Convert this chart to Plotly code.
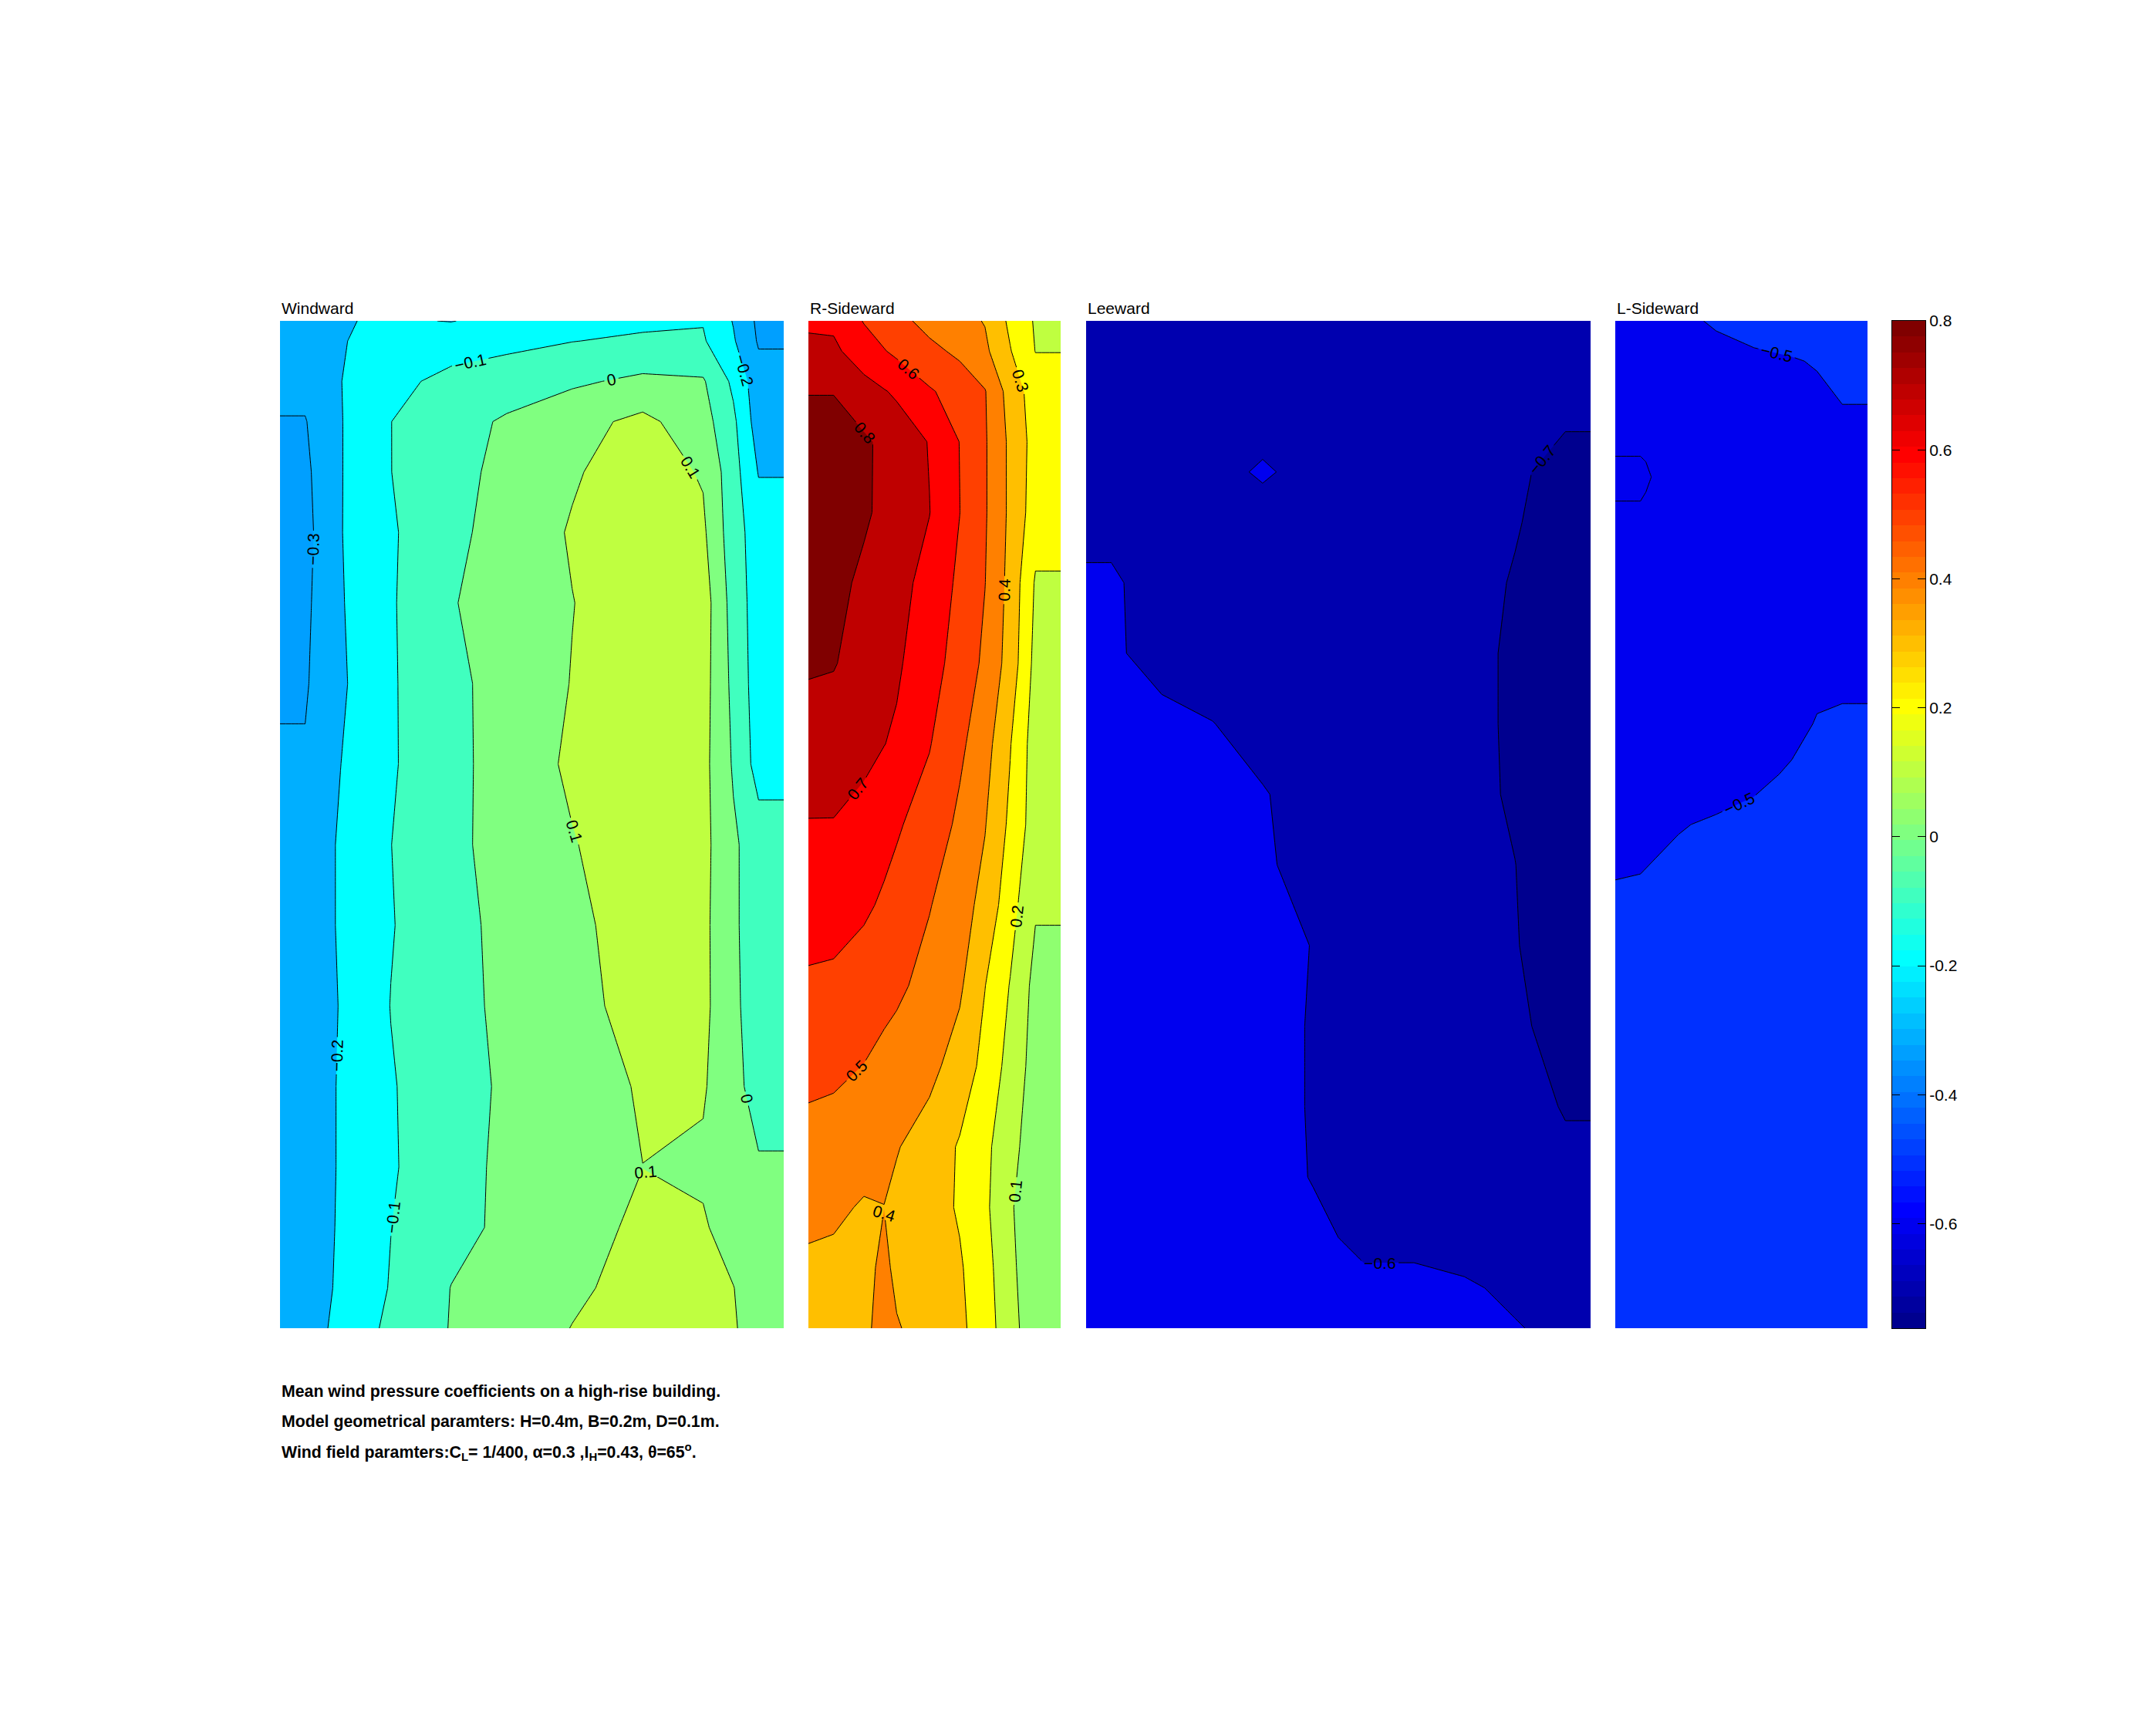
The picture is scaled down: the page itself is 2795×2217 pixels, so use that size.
import math
import plotly.graph_objects as go

# ---------------- data ----------------
# contour levels and colour-axis limits
level_start, level_end, level_step = -0.8, 0.8, 0.1
c_min, c_max = -0.762, 0.8
cbar_ticks = [-0.6, -0.4, -0.2, 0, 0.2, 0.4, 0.6, 0.8]
cbar_ticktext = ["-0.6", "-0.4", "-0.2", "0", "0.2", "0.4", "0.6", "0.8"]

face_titles = ["Windward", "R-Sideward", "Leeward", "L-Sideward"]

# Windward face (B = 0.2 m wide, H = 0.4 m); rows listed from top to bottom
ww_x = [0, 0.01, 0.024, 0.044, 0.068, 0.09, 0.116, 0.144, 0.168, 0.18, 0.19, 0.2]
ww_h = [0.4, 0.392, 0.376, 0.36, 0.34, 0.316, 0.288, 0.256, 0.224, 0.192, 0.16,
        0.128, 0.096, 0.064, 0.04, 0.016, 0.0]
ww_z = [
    [-0.25, -0.25, -0.205, -0.19, -0.203, -0.17, -0.14, -0.12, -0.105, -0.205, -0.32, -0.32],
    [-0.25, -0.25, -0.205, -0.17, -0.15, -0.13, -0.102, -0.085, -0.09, -0.19, -0.31, -0.31],
    [-0.27, -0.27, -0.202, -0.13, -0.07, -0.04, -0.015, 0.02, 0.01, -0.12, -0.26, -0.26],
    [-0.305, -0.305, -0.205, -0.101, -0.03, 0.01, 0.065, 0.125, 0.04, -0.08, -0.25, -0.25],
    [-0.32, -0.32, -0.205, -0.101, -0.035, 0.03, 0.09, 0.15, 0.091, -0.061, -0.205, -0.205],
    [-0.33, -0.33, -0.204, -0.111, -0.025, 0.041, 0.108, 0.15, 0.117, -0.057, -0.15, -0.15],
    [-0.32, -0.32, -0.208, -0.11, -0.006, 0.043, 0.098, 0.15, 0.15, -0.04, -0.15, -0.15],
    [-0.31, -0.31, -0.215, -0.11, -0.025, 0.04, 0.103, 0.15, 0.14, -0.025, -0.15, -0.15],
    [-0.29, -0.29, -0.201, -0.11, -0.03, 0.045, 0.115, 0.16, 0.13, -0.01, -0.14, -0.14],
    [-0.26, -0.26, -0.19, -0.101, -0.025, 0.04, 0.095, 0.15, 0.13, 0.015, -0.05, -0.05],
    [-0.26, -0.26, -0.19, -0.105, -0.035, 0.03, 0.08, 0.14, 0.125, 0.015, -0.05, -0.05],
    [-0.27, -0.27, -0.195, -0.098, -0.03, 0.02, 0.07, 0.135, 0.125, 0.02, -0.05, -0.05],
    [-0.27, -0.27, -0.19, -0.107, -0.04, 0.015, 0.05, 0.11, 0.11, 0.03, -0.04, -0.04],
    [-0.27, -0.27, -0.19, -0.11, -0.035, 0.02, 0.05, 0.0995, 0.085, 0.04, 0.01, 0.01],
    [-0.28, -0.28, -0.185, -0.101, -0.03, 0.02, 0.06, 0.12, 0.11, 0.06, 0.03, 0.03],
    [-0.29, -0.29, -0.175, -0.095, 0.002, 0.04, 0.085, 0.13, 0.125, 0.102, 0.05, 0.05],
    [-0.29, -0.29, -0.15, -0.085, 0.005, 0.05, 0.102, 0.14, 0.13, 0.108, 0.06, 0.06],
]

# R-Sideward face (D = 0.1 m wide)
rs_x = [0, 0.01, 0.022, 0.03, 0.035, 0.048, 0.06, 0.07, 0.08, 0.09, 0.1]
rs_h = [0.4, 0.388, 0.372, 0.352, 0.324, 0.296, 0.264, 0.232, 0.2, 0.168, 0.136,
        0.104, 0.072, 0.048, 0.024, 0.0]
rs_z = [
    [0.68, 0.68, 0.595, 0.555, 0.53, 0.468, 0.43, 0.395, 0.28, 0.19, 0.19],
    [0.73, 0.72, 0.645, 0.605, 0.58, 0.525, 0.48, 0.42, 0.305, 0.198, 0.198],
    [0.795, 0.795, 0.74, 0.706, 0.685, 0.61, 0.56, 0.505, 0.36, 0.25, 0.25],
    [0.86, 0.86, 0.815, 0.781, 0.76, 0.695, 0.598, 0.51, 0.38, 0.26, 0.26],
    [0.88, 0.87, 0.815, 0.778, 0.755, 0.702, 0.601, 0.51, 0.38, 0.25, 0.25],
    [0.86, 0.83, 0.78, 0.749, 0.73, 0.67, 0.58, 0.502, 0.37, 0.19, 0.19],
    [0.81, 0.805, 0.765, 0.734, 0.715, 0.635, 0.565, 0.48, 0.36, 0.17, 0.17],
    [0.76, 0.755, 0.73, 0.702, 0.685, 0.605, 0.52, 0.44, 0.305, 0.15, 0.15],
    [0.695, 0.695, 0.665, 0.631, 0.61, 0.56, 0.48, 0.405, 0.28, 0.15, 0.15],
    [0.66, 0.65, 0.615, 0.587, 0.57, 0.505, 0.44, 0.37, 0.24, 0.11, 0.11],
    [0.58, 0.575, 0.555, 0.533, 0.52, 0.465, 0.415, 0.302, 0.195, 0.07, 0.07],
    [0.525, 0.52, 0.498, 0.472, 0.455, 0.425, 0.36, 0.27, 0.165, 0.06, 0.06],
    [0.47, 0.46, 0.445, 0.42, 0.405, 0.36, 0.29, 0.225, 0.13, 0.05, 0.05],
    [0.43, 0.42, 0.39, 0.399, 0.38, 0.34, 0.29, 0.22, 0.11, 0.04, 0.04],
    [0.38, 0.375, 0.36, 0.43, 0.37, 0.335, 0.31, 0.24, 0.12, 0.04, 0.04],
    [0.36, 0.36, 0.37, 0.45, 0.41, 0.345, 0.32, 0.25, 0.135, 0.04, 0.04],
]

# Leeward face (0.2 m wide)
lw_x = [0, 0.01, 0.03, 0.05, 0.07, 0.09, 0.11, 0.13, 0.15, 0.17, 0.19, 0.2]
lw_h = [0.4, 0.36, 0.34, 0.32, 0.296, 0.268, 0.24, 0.212, 0.184, 0.152, 0.12,
        0.088, 0.06, 0.036, 0.016, 0.0]
lw_z = [
    [-0.62, -0.62, -0.64, -0.65, -0.65, -0.65, -0.65, -0.66, -0.67, -0.68, -0.69, -0.69],
    [-0.62, -0.62, -0.64, -0.645, -0.63, -0.645, -0.65, -0.66, -0.67, -0.685, -0.695, -0.695],
    [-0.63, -0.63, -0.64, -0.627, -0.59, -0.627, -0.65, -0.66, -0.67, -0.69, -0.72, -0.72],
    [-0.62, -0.62, -0.635, -0.645, -0.635, -0.65, -0.655, -0.66, -0.675, -0.695, -0.73, -0.73],
    [-0.59, -0.59, -0.63, -0.645, -0.65, -0.65, -0.655, -0.66, -0.675, -0.705, -0.74, -0.74],
    [-0.585, -0.585, -0.635, -0.645, -0.65, -0.655, -0.66, -0.665, -0.68, -0.71, -0.75, -0.75],
    [-0.56, -0.56, -0.575, -0.598, -0.63, -0.645, -0.655, -0.665, -0.68, -0.71, -0.75, -0.75],
    [-0.56, -0.56, -0.565, -0.575, -0.595, -0.63, -0.65, -0.66, -0.675, -0.71, -0.75, -0.75],
    [-0.56, -0.56, -0.56, -0.57, -0.59, -0.625, -0.645, -0.655, -0.67, -0.699, -0.75, -0.75],
    [-0.56, -0.56, -0.56, -0.565, -0.575, -0.602, -0.635, -0.65, -0.665, -0.695, -0.75, -0.75],
    [-0.56, -0.56, -0.56, -0.565, -0.575, -0.605, -0.635, -0.65, -0.66, -0.68, -0.74, -0.74],
    [-0.56, -0.56, -0.56, -0.565, -0.575, -0.605, -0.63, -0.645, -0.655, -0.67, -0.705, -0.705],
    [-0.56, -0.56, -0.56, -0.565, -0.575, -0.603, -0.625, -0.64, -0.65, -0.66, -0.68, -0.68],
    [-0.56, -0.56, -0.56, -0.565, -0.57, -0.585, -0.615, -0.62, -0.635, -0.65, -0.67, -0.67],
    [-0.56, -0.56, -0.56, -0.56, -0.565, -0.575, -0.585, -0.58, -0.59, -0.615, -0.64, -0.64],
    [-0.56, -0.56, -0.56, -0.56, -0.565, -0.57, -0.575, -0.58, -0.585, -0.595, -0.62, -0.62],
]

# L-Sideward face (0.1 m wide)
ls_x = [0, 0.01, 0.025, 0.04, 0.055, 0.07, 0.08, 0.09, 0.1]
ls_h = [0.4, 0.384, 0.364, 0.344, 0.338, 0.332, 0.3, 0.26, 0.24, 0.22, 0.2, 0.176, 0.1, 0.0]
ls_z = [
    [-0.53, -0.53, -0.52, -0.49, -0.47, -0.46, -0.45, -0.45, -0.45],
    [-0.55, -0.55, -0.545, -0.53, -0.515, -0.505, -0.495, -0.47, -0.47],
    [-0.56, -0.56, -0.555, -0.55, -0.54, -0.53, -0.52, -0.505, -0.505],
    [-0.605, -0.605, -0.57, -0.56, -0.55, -0.54, -0.53, -0.52, -0.52],
    [-0.61, -0.61, -0.575, -0.565, -0.555, -0.545, -0.535, -0.52, -0.52],
    [-0.605, -0.605, -0.57, -0.56, -0.555, -0.545, -0.53, -0.52, -0.52],
    [-0.56, -0.56, -0.56, -0.555, -0.55, -0.54, -0.53, -0.52, -0.52],
    [-0.56, -0.56, -0.555, -0.55, -0.545, -0.535, -0.52, -0.515, -0.515],
    [-0.56, -0.56, -0.555, -0.55, -0.54, -0.525, -0.495, -0.49, -0.49],
    [-0.56, -0.555, -0.55, -0.54, -0.52, -0.49, -0.48, -0.48, -0.48],
    [-0.555, -0.545, -0.505, -0.49, -0.475, -0.465, -0.46, -0.46, -0.46],
    [-0.495, -0.49, -0.475, -0.465, -0.46, -0.455, -0.45, -0.45, -0.45],
    [-0.47, -0.47, -0.465, -0.46, -0.455, -0.45, -0.45, -0.45, -0.45],
    [-0.455, -0.455, -0.455, -0.45, -0.45, -0.45, -0.45, -0.45, -0.45],
]

caption_lines = [
    "Mean wind pressure coefficients on a high-rise building.",
    "Model geometrical paramters: H=0.4m, B=0.2m, D=0.1m.",
    "Wind field paramters:C<sub>L</sub>= 1/400, \u03b1=0.3 ,I<sub>H</sub>=0.43, \u03b8=65<sup>o</sup>.",
]


# ---------------- colour map (MATLAB jet(64)) ----------------
def jet(m=64):
    n = -(-m // 4)
    u = [i / n for i in range(1, n + 1)] + [1.0] * (n - 1) + [i / n for i in range(n, 0, -1)]
    g0 = -(-n // 2) - (1 if m % 4 == 1 else 0)
    J = [[0.0, 0.0, 0.0] for _ in range(m)]
    for k, val in enumerate(u, start=1):
        gi = g0 + k
        ri, bi = gi + n, gi - n
        if 1 <= ri <= m:
            J[ri - 1][0] = val
        if 1 <= gi <= m:
            J[gi - 1][1] = val
        if 1 <= bi <= m:
            J[bi - 1][2] = val
    return J


JET = jet(64)


def rgb(c):
    return "rgb(%d,%d,%d)" % tuple(int(round(v * 255)) for v in c)


def jet_at(v):
    idx = math.floor((v - c_min) / (c_max - c_min) * 64 + 1e-9) + 1
    idx = min(max(idx, 1), 64)
    return rgb(JET[idx - 1])


n_levels = int(round((level_end - level_start) / level_step)) + 1


def face_scale(z):
    # MATLAB-style filled contours: each band takes the colour of its lower level,
    # the lowest populated band takes the colour of the face minimum
    zmin = min(min(r) for r in z)
    k0 = math.floor((zmin - level_start) / level_step + 1e-9)
    cols = []
    for k in range(n_levels):
        L = level_start + k * level_step
        cols.append(jet_at(zmin if k == k0 else L))
    # plotly colours the band above level L with colour at L + step/2 -> position (k+1)/n_levels
    return [[0.0, cols[0]]] + [[(k + 1) / n_levels, cols[k]] for k in range(n_levels)]


fig = go.Figure()

faces = [
    (ww_x, ww_h, ww_z, "x", "y"),
    (rs_x, rs_h, rs_z, "x2", "y2"),
    (lw_x, lw_h, lw_z, "x3", "y3"),
    (ls_x, ls_h, ls_z, "x4", "y4"),
]
for fx, fh, fz, xa, ya in faces:
    fig.add_trace(go.Contour(
        x=fx, y=fh[::-1], z=fz[::-1],
        xaxis=xa, yaxis=ya,
        autocontour=False,
        contours=dict(start=level_start, end=level_end, size=level_step,
                      coloring="fill", showlines=True, showlabels=True,
                      labelfont=dict(size=21, color="black", family="Liberation Sans, Arial")),
        line=dict(color="black", width=1, smoothing=0),
        colorscale=face_scale(fz),
        showscale=False,
        hoverinfo="skip",
    ))

# colour bar drawn as a 64-step heatmap
cb_step = (c_max - c_min) / 64
fig.add_trace(go.Heatmap(
    z=[[i] for i in range(64)],
    x0=0.5, dx=1,
    y0=c_min + cb_step / 2, dy=cb_step,
    zmin=0, zmax=63,
    colorscale=[[i / 63, rgb(JET[i])] for i in range(64)],
    showscale=False, xaxis="x5", yaxis="y5", hoverinfo="skip",
))

ydom = [0.22327, 0.81236]
xdoms = [[0.12987, 0.36351], [0.37496, 0.49195], [0.50376, 0.73774], [0.74919, 0.86619]]
xranges = [[0, 0.2], [0, 0.1], [0, 0.2], [0, 0.1]]

layout = dict(
    width=2795, height=2217,
    margin=dict(l=0, r=0, t=0, b=0, pad=0, autoexpand=False),
    paper_bgcolor="white", plot_bgcolor="white",
    showlegend=False,
    font=dict(family="Liberation Sans, Arial", size=21, color="black"),
)
for i in range(4):
    sx = "" if i == 0 else str(i + 1)
    layout["xaxis" + sx] = dict(domain=xdoms[i], range=xranges[i], visible=False,
                                anchor="y" + sx, fixedrange=True)
    layout["yaxis" + sx] = dict(domain=ydom, range=[0, 0.4], visible=False,
                                anchor="x" + sx, fixedrange=True)

layout["xaxis5"] = dict(domain=[0.87764, 0.89302], range=[0, 1], anchor="y5",
                        showline=True, linecolor="black", linewidth=1, mirror=True,
                        ticks="", showticklabels=False, showgrid=False, zeroline=False,
                        fixedrange=True)
layout["yaxis5"] = dict(domain=ydom, range=[c_min, c_max], anchor="x5", side="right",
                        tickvals=cbar_ticks, ticktext=cbar_ticktext,
                        ticks="inside", ticklen=10, tickcolor="black", tickwidth=1,
                        showline=True, linecolor="black", linewidth=1, mirror="ticks",
                        showgrid=False, zeroline=False, automargin=False, fixedrange=True,
                        tickfont=dict(size=21, color="black", family="Liberation Sans, Arial"))

annotations = []
for i, title in enumerate(face_titles):
    annotations.append(dict(text=title, x=xdoms[i][0], y=ydom[1], xref="paper", yref="paper",
                            xanchor="left", yanchor="bottom", yshift=3, showarrow=False,
                            font=dict(size=21, color="black")))
caption_y = [0.18629, 0.16870, 0.15110]
for line, yy in zip(caption_lines, caption_y):
    annotations.append(dict(text="<b>" + line + "</b>", x=xdoms[0][0], y=yy,
                            xref="paper", yref="paper", xanchor="left", yanchor="middle",
                            showarrow=False, font=dict(size=21.3, color="black")))
layout["annotations"] = annotations

fig.update_layout(**layout)
fig.write_html("out.html", config={"displayModeBar": False},
               post_script="document.body.style.margin='0px';")
